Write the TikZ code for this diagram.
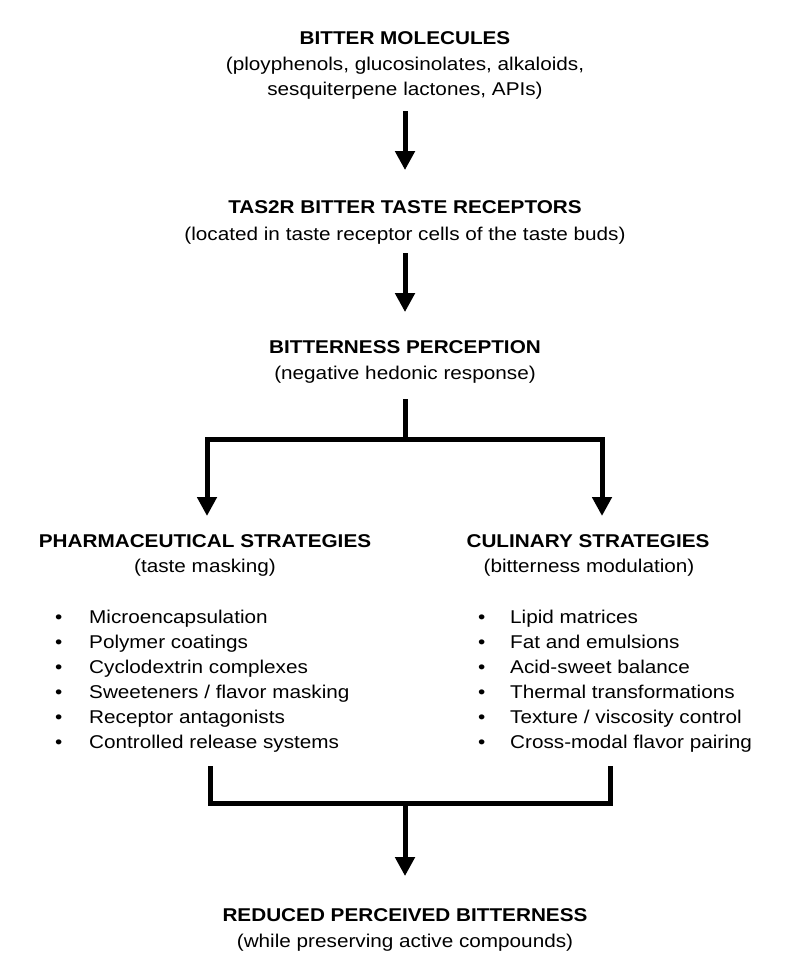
\documentclass[tikz,border=0pt]{standalone}
\usepackage{fontspec}
\setmainfont[FakeStretch=1.12]{Liberation Sans}
\usepackage{tikz}
\usetikzlibrary{positioning, arrows.meta}

\begin{document}
\begin{tikzpicture}[
    x=1pt, y=-1pt,
    >=stealth,
    head/.style={
        anchor=base,
        inner sep=0pt,
        font=\fontsize{18.5}{22}\selectfont\bfseries
    },
    sub/.style={
        anchor=base,
        inner sep=0pt,
        align=center,
        font=\fontsize{18.5}{25}\selectfont
    },
    items/.style={
        anchor=north west,
        inner sep=0pt,
        align=left,
        font=\fontsize{18.5}{25}\selectfont
    },
    bar/.style={
        line width=5pt,
        line join=miter
    },
    arr/.style={
        bar,
        -{Triangle[length=19pt,width=19pt]}
    }
]

\useasboundingbox[fill=white] (0,0) rectangle (785,969);

% --- Stages down the middle ---
\node[head] (mol) at (405, 44.6) {BITTER MOLECULES};
\node[sub] (molsub) at (405, 70) {(ployphenols, glucosinolates, alkaloids,};
\node[sub] (molsub2) at (405, 95) {sesquiterpene lactones, APIs)};

\node[head] (tas) at (405, 213.6) {TAS2R BITTER TASTE RECEPTORS};
\node[sub] (tassub) at (405, 240) {(located in taste receptor cells of the taste buds)};

\node[head] (perc) at (405, 353.6) {BITTERNESS PERCEPTION};
\node[sub] (percsub) at (405, 379) {(negative hedonic response)};

\draw[arr] ([yshift=-12pt]molsub2.south) -- ([yshift=30.4pt]tas.north);
\draw[arr] ([yshift=-9pt]tassub.south) -- ([yshift=28.4pt]perc.north);

% --- Two branches ---
\node[head] (pharma) at (205, 547.6) {PHARMACEUTICAL STRATEGIES};
\node[sub] (pharmasub) at (205, 572) {(taste masking)};

\node[head] (culin) at (588, 547.6) {CULINARY STRATEGIES};
\node[sub] (culinsub) at (589, 572) {(bitterness modulation)};

\coordinate (split) at (405, 439);
\coordinate (ltip) at (207, 516);
\coordinate (rtip) at (602, 516);

\draw[bar] ([yshift=-16pt]percsub.south) -- (split);
\draw[arr] (split) -| (ltip);
\draw[arr] (split) -| (rtip);

% --- Strategy lists ---
\node[items] (pharmalist) at (55, 610) {%
    \makebox[34pt][l]{•}Microencapsulation\\
    \makebox[34pt][l]{•}Polymer coatings\\
    \makebox[34pt][l]{•}Cyclodextrin complexes\\
    \makebox[34pt][l]{•}Sweeteners / flavor masking\\
    \makebox[34pt][l]{•}Receptor antagonists\\
    \makebox[34pt][l]{•}Controlled release systems};

\node[items] (culinlist) at (478, 610) {%
    \makebox[32pt][l]{•}Lipid matrices\\
    \makebox[32pt][l]{•}Fat and emulsions\\
    \makebox[32pt][l]{•}Acid-sweet balance\\
    \makebox[32pt][l]{•}Thermal transformations\\
    \makebox[32pt][l]{•}Texture / viscosity control\\
    \makebox[32pt][l]{•}Cross-modal flavor pairing};

% --- Merge into outcome ---
\coordinate (lbot) at (210, 766);
\coordinate (rbot) at (610, 766);
\coordinate (join) at (405, 803);

\node[head] (reduced) at (405, 921.6) {REDUCED PERCEIVED BITTERNESS};
\node[sub] (reducedsub) at (405, 947) {(while preserving active compounds)};

\draw[bar] (lbot) |- (join) -| (rbot);
\draw[arr] (join) -- ([yshift=32.4pt]reduced.north);

\end{tikzpicture}
\end{document}
